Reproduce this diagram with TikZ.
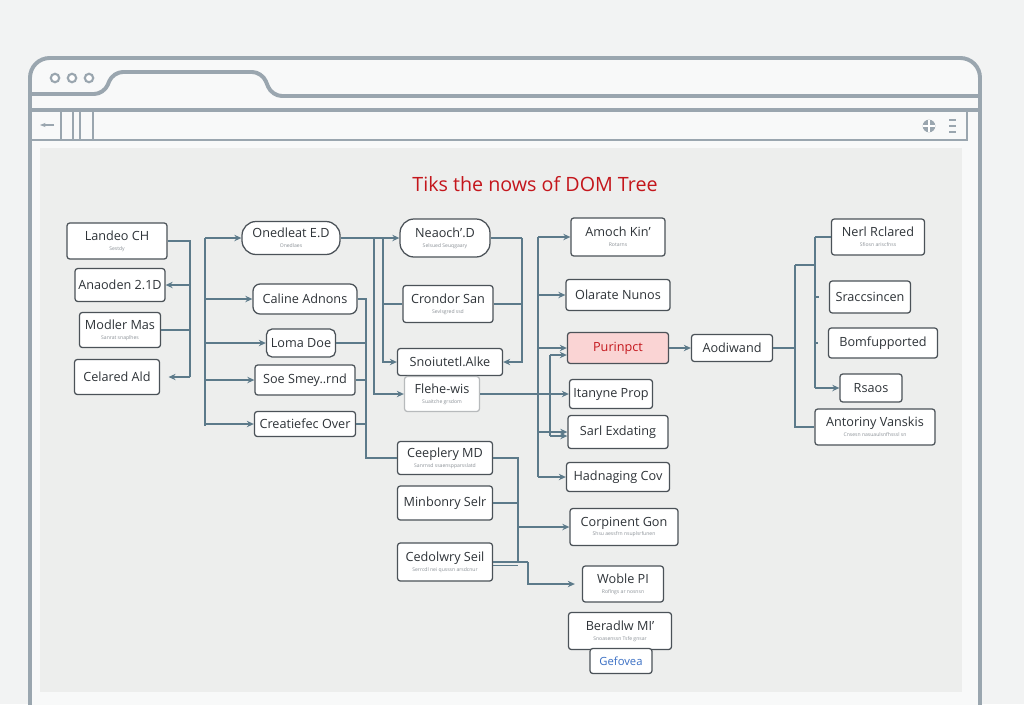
\documentclass[tikz,border=0pt]{standalone}
\usepackage{fontspec}
\setmainfont{Open Sans}
\usepackage{tikz}
\usetikzlibrary{arrows.meta,positioning,calc}
\usepackage{xcolor}
\definecolor{pagebg}{HTML}{F2F3F3}
\definecolor{chromebg}{HTML}{F8F9F9}
\definecolor{panel}{HTML}{EDEEED}
\definecolor{framegray}{HTML}{9AA6AF}
\definecolor{boxline}{HTML}{4B5258}
\definecolor{linkblue}{HTML}{5C7A8A}
\definecolor{darktext}{HTML}{2E3338}
\definecolor{subgray}{HTML}{8A9096}
\definecolor{hotfill}{HTML}{FAD4D4}
\definecolor{hotred}{HTML}{C4161C}
\definecolor{gefblue}{HTML}{3A6FC4}
\newcommand{\subt}[1]{\\[-2pt]{\fontsize{3.6}{4}\selectfont\color{subgray}#1}}

\begin{document}
\begin{tikzpicture}[
  x=0.025cm, y=-0.025cm,
  box/.style={rectangle, rounded corners=2pt, draw=boxline, line width=0.9pt,
              fill=white, font=\fontsize{9}{9}\selectfont, text=darktext,
              align=center, inner sep=1pt},
  pill/.style={box, rounded corners=10pt},
  hot/.style={box, fill=hotfill, text=hotred},
  faint/.style={box, draw=boxline!40},
  sz/.style 2 args={minimum width=#1*0.025cm, minimum height=#2*0.025cm},
  conn/.style={-{Stealth[length=5pt, width=4.5pt]}, line width=0.9pt, color=linkblue},
  wire/.style={line width=0.9pt, color=linkblue},
  chrome/.style={line width=2.8pt, color=framegray},
]
  \useasboundingbox (0,0) rectangle (1024,704);
  \fill[pagebg] (0,0) rectangle (1024,704);

  % browser window
  \draw[chrome, fill=chromebg, rounded corners=14pt] (30,730) -- (30,58) -- (980,58) -- (980,730);
  \draw[chrome, rounded corners=7pt] (30,94) -- (104,94) -- (113,72) -- (262,72) -- (272,96) -- (980,96);
  \foreach \x in {55,72,89}
    \draw[framegray, line width=1.5pt, fill=white] (\x,78) circle (3pt);
  \draw[chrome] (30,110) -- (980,110);
  \draw[chrome, line width=2pt] (30,140) -- (967,140) -- (967,110);
  \foreach \x in {61,73,80,93}
    \draw[chrome, line width=2pt] (\x,110) -- (\x,140);
  \draw[chrome, line width=1.6pt, -{Stealth[length=4pt]}] (54,125) -- (40,125);
  \fill[framegray] (929,126) circle (4.5pt);
  \draw[white, line width=1pt] (923,126) -- (935,126) (929,120) -- (929,132);
  \foreach \yy in {120,126,132}
    \draw[framegray, line width=1.5pt] (949,\yy) -- (956,\yy);
  \fill[panel] (40,148) rectangle (962,692);

  \node[font=\fontsize{14}{14}\selectfont, text=hotred] (title) at (535,184) {Tiks the nows of DOM Tree};

  % column 1
  \node[box, sz={100}{36}] (landeo) at (117,241) {Landeo CH\subt{Sestdy}};
  \node[box, sz={90}{33}] (anaoden) at (120,285) {Anaoden 2.1D};
  \node[box, sz={81}{35}] (modler) at (120,330) {Modler Mas\subt{Sanrat snaplhes}};
  \node[box, sz={85}{35}] (celared) at (117,377) {Celared Ald};

  % column 2
  \node[pill, sz={98}{33}] (onedleat) at (291,238) {Onedleat E.D\subt{Onedlaes}};
  \node[box, rounded corners=5pt, sz={104}{30}] (caline) at (305,299) {Caline Adnons};
  \node[box, rounded corners=4pt, sz={69}{28}] (loma) at (301,343) {Loma Doe};
  \node[box, sz={100}{30}] (soe) at (305,380) {Soe Smey..rnd};
  \node[box, sz={101}{25}] (creat) at (305,424) {Creatiefec Over};

  % column 3
  \node[pill, sz={90}{38}] (neaoch) at (445,238) {Neaoch'.D\subt{Selsued Seuqgaary}};
  \node[box, sz={90}{37}] (crondor) at (448,304) {Crondor San\subt{Sevlsgred ssd}};
  \node[box, sz={105}{27}] (snoiu) at (450,362) {Snoiutetl.Alke};
  \node[faint, sz={75}{35}] (flehe) at (442,394) {Flehe-wis\subt{Suaitche grsdom}};
  \node[box, sz={95}{33}] (ceeplery) at (445,458) {Ceeplery MD\subt{Sanrnsd ssaenspparsslatd}};
  \node[box, sz={95}{34}] (minbonry) at (445,503) {Minbonry Selr};
  \node[box, sz={95}{38}] (cedolwry) at (445,562) {Cedolwry Seil\subt{Serrcdl nei qusssn arsdcnur}};

  % column 4
  \node[box, sz={94}{38}] (amoch) at (618,237) {Amoch Kin'\subt{Rotarns}};
  \node[box, sz={104}{31}] (olarate) at (618,295) {Olarate Nunos};
  \node[hot, sz={101}{31}] (purinpct) at (618,348) {Purinpct};
  \node[box, sz={83}{29}] (itanyne) at (611,394) {Itanyne Prop};
  \node[box, sz={100}{33}] (sarl) at (618,432) {Sarl Exdating};
  \node[box, sz={103}{29}] (hadnaging) at (618,477) {Hadnaging Cov};
  \node[box, sz={108}{37}] (corpinent) at (624,527) {Corpinent Gon\subt{Shsu aessfrn nsuplsrfunen}};
  \node[box, sz={81}{36}] (woble) at (623,584) {Woble PI\subt{Roflngs ar nosnsn}};
  \node[box, sz={103}{37}] (beradlw) at (620,631) {Beradlw MI'\subt{Snoasenssn Tsfe gnsar}};
  \node[box, sz={62}{25}, text=gefblue, font=\fontsize{8}{8}\selectfont] (gefovea) at (621,661) {Gefovea};

  % column 5
  \node[box, sz={81}{27}] (aodiwand) at (732,348) {Aodiwand};
  \node[box, sz={93}{36}] (nerl) at (878,237) {Nerl Rclared\subt{Sfiosn ariscfnss}};
  \node[box, sz={81}{32}] (sracc) at (870,297) {Sraccsincen};
  \node[box, sz={109}{30}] (bomf) at (883,343) {Bomfupported};
  \node[box, sz={62}{28}] (rsaos) at (871,388) {Rsaos};
  \node[box, sz={120}{36}] (antoriny) at (875,427) {Antoriny Vanskis\subt{Cnsesn nasuaulsnfhsssl sn}};

  % connectors
  \coordinate (j1) at (190,241);
  \coordinate (j1b) at (190,377);
  \draw[wire] (landeo.east) -- (j1) -- (j1b);
  \draw[conn] (j1 |- anaoden.east) -- (anaoden.east);
  \draw[wire] (modler.east) -- (j1 |- modler.east);
  \draw[conn, shorten >=6pt] (j1b) -- (celared.east);

  \coordinate (j2) at (205,238);
  \coordinate (j2b) at (205,426);
  \draw[wire] (j2) -- (j2b);
  \foreach \n in {onedleat,caline,loma,soe,creat}
    \draw[conn] (j2 |- \n.west) -- (\n.west);

  \coordinate (j3) at (366,299);
  \coordinate (j4) at (374,238);
  \coordinate (j5) at (383,238);
  \draw[wire] (caline.east) -- (j3) |- (ceeplery.west);
  \foreach \n in {loma,soe,creat}
    \draw[wire] (\n.east) -- (j3 |- \n.east);
  \draw[conn] (onedleat.east) -- (neaoch.west);
  \draw[conn] (j4) |- (flehe.west);
  \draw[conn] (j5) |- (snoiu.west);
  \draw[wire] (crondor.west) -- (j5 |- crondor.west);

  \coordinate (j6) at (522,238);
  \draw[wire] (neaoch.east) -- (j6);
  \draw[conn] (j6) |- (snoiu.east);
  \draw[wire] (crondor.east) -- (j6 |- crondor.east);
  \draw[conn] (flehe.east) -- (itanyne.west);

  \coordinate (j7) at (538,237);
  \coordinate (j7b) at (538,477);
  \draw[wire] (j7) -- (j7b);
  \foreach \n in {amoch,olarate,purinpct,sarl,hadnaging}
    \draw[conn] (j7 |- \n.west) -- (\n.west);
  \coordinate (j8) at (550,355);
  \coordinate (j8b) at (550,436);
  \draw[wire] (j8) -- (j8b);
  \draw[conn] (j8) -- (purinpct.west |- j8);
  \draw[conn] (j8b) -- (sarl.west |- j8b);

  \coordinate (j9) at (518,458);
  \coordinate (j10) at (528,562);
  \draw[wire] (ceeplery.east) -- (j9) -- (j9 |- cedolwry.east);
  \draw[wire] (minbonry.east) -- (j9 |- minbonry.east);
  \draw[wire] (cedolwry.east) -- (j10);
  \draw[wire] ([yshift=-2.5pt]cedolwry.east) -- ([yshift=-2.5pt]j9 |- cedolwry.east);
  \draw[conn] (j9 |- corpinent.west) -- (corpinent.west);
  \draw[conn, shorten >=5pt] (j10) |- (woble.west);

  \draw[conn] (purinpct.east) -- (aodiwand.west);
  \coordinate (j11) at (795,265);
  \coordinate (j11b) at (795,427);
  \coordinate (j12) at (815,265);
  \draw[wire] (aodiwand.east) -- (j11 |- aodiwand.east);
  \draw[wire] (j11) -- (j11b) -- (antoriny.west);
  \draw[wire] (j11) -- (j12);
  \draw[wire] (j12 |- nerl.west) -- (nerl.west);
  \draw[wire] (j12 |- nerl.west) -- (j12 |- rsaos.west);
  \draw[conn] (j12 |- rsaos.west) -- (rsaos.west);
  \draw[wire, shorten >=7pt] (j12 |- sracc.west) -- (sracc.west);
  \draw[wire, shorten >=7pt] (j12 |- bomf.west) -- (bomf.west);
\end{tikzpicture}
\end{document}
